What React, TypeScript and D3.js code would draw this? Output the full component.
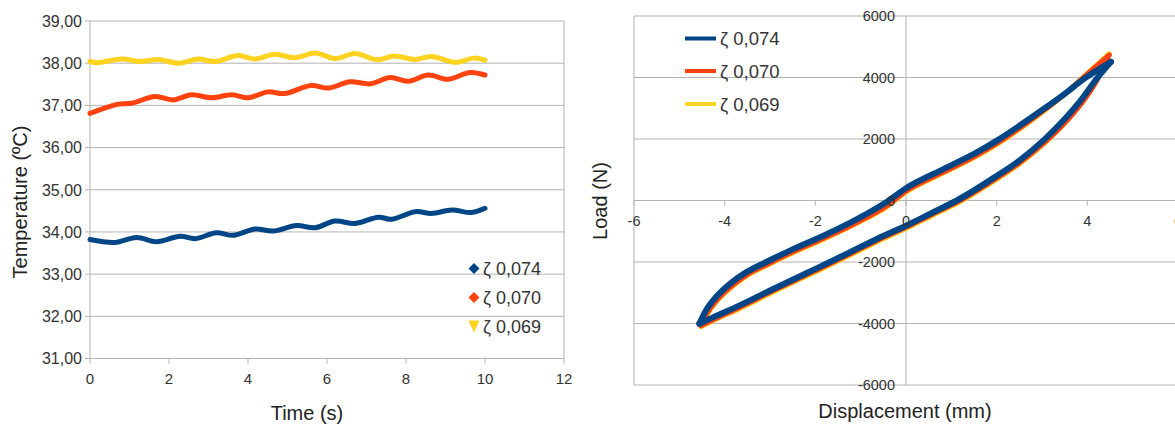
import React from "react";
import * as d3 from "d3";

const W = 1175;
const H = 425;

// Temperature (ºC) over time (s) for three damping ratios
const seriesNames = ["ζ 0,074", "ζ 0,070", "ζ 0,069"];
const seriesColors = ["#004586", "#ff420e", "#ffd320"];

const timeBlue = [0, 0.63, 1.18, 1.69, 2.28, 2.66, 3.2, 3.63, 4.18, 4.63, 5.23, 5.7, 6.2, 6.71, 7.3, 7.64, 8.23, 8.65, 9.16, 9.66, 10];
const tempBlue = [33.82, 33.75, 33.87, 33.77, 33.9, 33.84, 33.98, 33.92, 34.07, 34.02, 34.15, 34.1, 34.26, 34.2, 34.35, 34.3, 34.48, 34.44, 34.52, 34.46, 34.56];

const timeRed = [0, 0.35, 0.72, 1.05, 1.65, 2.1, 2.57, 3.08, 3.59, 4.01, 4.51, 4.92, 5.6, 6.04, 6.58, 7.09, 7.6, 8.05, 8.56, 9.06, 9.62, 10];
const tempRed = [36.81, 36.93, 37.03, 37.05, 37.21, 37.13, 37.25, 37.18, 37.25, 37.18, 37.32, 37.28, 37.47, 37.41, 37.56, 37.51, 37.66, 37.57, 37.72, 37.62, 37.78, 37.72];

const timeYellow = [0, 0.17, 0.8, 1.27, 1.73, 2.24, 2.74, 3.16, 3.75, 4.18, 4.68, 5.19, 5.7, 6.22, 6.71, 7.28, 7.7, 8.23, 8.65, 9.26, 9.72, 10];
const tempYellow = [38.04, 38.01, 38.1, 38.04, 38.09, 38.0, 38.1, 38.04, 38.18, 38.1, 38.21, 38.13, 38.24, 38.11, 38.23, 38.08, 38.17, 38.09, 38.16, 38.02, 38.12, 38.07];

const timeTicks = [0, 2, 4, 6, 8, 10, 12];
const tempTicks = [31, 32, 33, 34, 35, 36, 37, 38, 39];

// Load (N) against displacement (mm): each hysteresis loop is stored as its
// upper and lower branch, both running from the left tip to the right tip.
const dispBlueUpper = [-4.56, -4.41, -4.19, -3.89, -3.52, -3.07, -2.56, -1.81, -1.07, -0.48, 0, 0.78, 1.52, 2.04, 2.55, 3.05, 3.5, 3.95, 4.52];
const loadBlueUpper = [-4010, -3570, -3140, -2720, -2330, -1990, -1630, -1140, -600, -100, 400, 990, 1530, 1980, 2480, 2990, 3470, 3980, 4510];
const dispBlueLower = [-4.56, -4.33, -3.67, -2.93, -2.19, -1.44, -0.7, 0, 0.55, 1.12, 1.96, 2.5, 3.05, 3.5, 3.85, 4.2, 4.52];
const loadBlueLower = [-4010, -3850, -3410, -2880, -2360, -1830, -1290, -820, -420, 0, 760, 1300, 1980, 2650, 3250, 3950, 4510];

const dispRedUpper = [-4.52, -4.38, -4.16, -3.86, -3.5, -3.05, -2.55, -1.8, -1.05, -0.45, 0, 0.78, 1.52, 2.04, 2.55, 3.05, 3.5, 3.95, 4.48];
const loadRedUpper = [-4070, -3650, -3220, -2800, -2410, -2070, -1710, -1220, -690, -200, 300, 890, 1440, 1890, 2400, 2940, 3460, 4050, 4730];
const dispRedLower = [-4.52, -4.3, -3.65, -2.92, -2.18, -1.43, -0.69, 0, 0.55, 1.12, 1.96, 2.5, 3.05, 3.5, 3.85, 4.2, 4.48];
const loadRedLower = [-4070, -3910, -3460, -2930, -2410, -1880, -1340, -870, -470, -60, 690, 1220, 1880, 2520, 3120, 3880, 4730];

const dispYellowUpper = [-4.52, -4.38, -4.16, -3.86, -3.5, -3.05, -2.55, -1.8, -1.05, -0.45, 0, 0.78, 1.52, 2.04, 2.55, 3.05, 3.5, 3.95, 4.48];
const loadYellowUpper = [-4100, -3680, -3250, -2830, -2440, -2100, -1740, -1250, -720, -230, 270, 860, 1410, 1860, 2370, 2920, 3450, 4060, 4770];
const dispYellowLower = [-4.52, -4.3, -3.65, -2.92, -2.18, -1.43, -0.69, 0, 0.55, 1.12, 1.96, 2.5, 3.05, 3.5, 3.85, 4.2, 4.48];
const loadYellowLower = [-4100, -3940, -3500, -2970, -2450, -1920, -1380, -910, -510, -100, 650, 1190, 1860, 2510, 3120, 3890, 4770];

const dispTicks = [-6, -4, -2, 0, 2, 4, 6];
const loadTicks = [-6000, -4000, -2000, 0, 2000, 4000, 6000];

const GRID = "#b3b3b3";
const TICK_FONT = "'Liberation Sans Narrow', 'Liberation Sans', Arial, sans-serif";
const FONT = "'Liberation Sans', Arial, sans-serif";
const TEXT = "#333333";

const fmtComma = (v: number) => v.toFixed(2).replace(".", ",");
const zip = (a: number[], b: number[]) => a.map((v, i) => [v, b[i]] as [number, number]);

function TemperatureChart() {
  const x = d3.scaleLinear().domain([0, 12]).range([90, 564]);
  const y = d3.scaleLinear().domain([31, 39]).range([358.5, 21]);
  const line = d3
    .line<[number, number]>()
    .x((d) => x(d[0]))
    .y((d) => y(d[1]))
    .curve(d3.curveCatmullRom.alpha(0.5));
  const series = [
    { t: timeYellow, v: tempYellow, c: seriesColors[2] },
    { t: timeRed, v: tempRed, c: seriesColors[1] },
    { t: timeBlue, v: tempBlue, c: seriesColors[0] },
  ];
  const legendY = [268.5, 297.5, 326.5];
  return (
    <g>
      {tempTicks.map((t) => (
        <g key={"gy" + t}>
          <line x1={85} x2={564} y1={y(t)} y2={y(t)} stroke={GRID} strokeWidth={1} />
          <text x={82} y={y(t)} dy="0.36em" textAnchor="end" fontFamily={TICK_FONT} fontSize={16} fill={TEXT}>
            {fmtComma(t)}
          </text>
        </g>
      ))}
      <line x1={90} x2={90} y1={21} y2={358.5} stroke={GRID} strokeWidth={1} />
      <line x1={564} x2={564} y1={21} y2={358.5} stroke={GRID} strokeWidth={1} />
      {timeTicks.map((t) => (
        <g key={"gx" + t}>
          <line x1={x(t)} x2={x(t)} y1={358.5} y2={363.5} stroke={GRID} strokeWidth={1} />
          <text x={x(t)} y={384} textAnchor="middle" fontFamily={TICK_FONT} fontSize={15} fill={TEXT}>
            {t}
          </text>
        </g>
      ))}
      {series.map((s, i) => (
        <path
          key={"s" + i}
          d={line(zip(s.t, s.v)) || ""}
          fill="none"
          stroke={s.c}
          strokeWidth={5}
          strokeLinecap="round"
          strokeLinejoin="round"
        />
      ))}
      {/* legend */}
      <path d={`M474,${legendY[0] - 5.5}L479.5,${legendY[0]}L474,${legendY[0] + 5.5}L468.5,${legendY[0]}Z`} fill={seriesColors[0]} />
      <path d={`M474,${legendY[1] - 5.5}L479.5,${legendY[1]}L474,${legendY[1] + 5.5}L468.5,${legendY[1]}Z`} fill={seriesColors[1]} />
      <path d={`M468.5,${legendY[2] - 6}L479.5,${legendY[2] - 6}L474,${legendY[2] + 6}Z`} fill={seriesColors[2]} />
      {seriesNames.map((n, i) => (
        <text key={"l" + i} x={483} y={legendY[i]} dy="0.36em" fontFamily={FONT} fontSize={18} fill={TEXT}>
          {n}
        </text>
      ))}
      <text x={307} y={420} textAnchor="middle" fontFamily={FONT} fontSize={20} fill="#222">
        Time (s)
      </text>
      <text transform="translate(26.5,202) rotate(-90)" textAnchor="middle" fontFamily={FONT} fontSize={20} fill="#222">
        Temperature (ºC)
      </text>
    </g>
  );
}

function LoadChart() {
  const x = d3.scaleLinear().domain([-6, 6]).range([634, 1178]);
  const y = d3.scaleLinear().domain([-6000, 6000]).range([385, 16]);
  const branch = d3
    .line<[number, number]>()
    .x((d) => x(d[0]))
    .y((d) => y(d[1]))
    .curve(d3.curveMonotoneX);
  const loops = [
    { up: zip(dispYellowUpper, loadYellowUpper), lo: zip(dispYellowLower, loadYellowLower), c: seriesColors[2], w: 5 },
    { up: zip(dispRedUpper, loadRedUpper), lo: zip(dispRedLower, loadRedLower), c: seriesColors[1], w: 5 },
    { up: zip(dispBlueUpper, loadBlueUpper), lo: zip(dispBlueLower, loadBlueLower), c: seriesColors[0], w: 6 },
  ];
  const legendY = [38.5, 71, 104];
  return (
    <g>
      {loadTicks.map((t) => (
        <line key={"gy" + t} x1={634} x2={W} y1={y(t)} y2={y(t)} stroke={GRID} strokeWidth={1} />
      ))}
      <line x1={634} x2={634} y1={16} y2={385} stroke={GRID} strokeWidth={1} />
      <line x1={x(0)} x2={x(0)} y1={16} y2={385} stroke={GRID} strokeWidth={1} />
      {dispTicks.map((t) => (
        <line key={"tx" + t} x1={x(t)} x2={x(t)} y1={y(0)} y2={y(0) + 5} stroke={GRID} strokeWidth={1} />
      ))}
      {loops.map((s, i) => (
        <g key={"p" + i} fill="none" stroke={s.c} strokeWidth={s.w} strokeLinecap="round" strokeLinejoin="round">
          <path d={branch(s.lo) || ""} />
          <path d={branch(s.up) || ""} />
        </g>
      ))}
      {loadTicks.map((t) => (
        <text key={"ly" + t} x={895} y={y(t)} dy="0.36em" textAnchor="end" fontFamily={TICK_FONT} fontSize={14.5} fill={TEXT}>
          {t}
        </text>
      ))}
      {dispTicks.map((t) => (
        <text key={"lx" + t} x={x(t)} y={225.5} textAnchor="middle" fontFamily={TICK_FONT} fontSize={14.5} fill={TEXT}>
          {t}
        </text>
      ))}
      {/* legend */}
      {seriesNames.map((n, i) => (
        <g key={"lg" + i}>
          <line x1={685} x2={716} y1={legendY[i]} y2={legendY[i]} stroke={seriesColors[i]} strokeWidth={4} />
          <text x={720} y={legendY[i]} dy="0.36em" fontFamily={FONT} fontSize={18.5} fill={TEXT}>
            {n}
          </text>
        </g>
      ))}
      <text x={905} y={418} textAnchor="middle" fontFamily={FONT} fontSize={20} fill="#222">
        Displacement (mm)
      </text>
      <text transform="translate(607,201) rotate(-90)" textAnchor="middle" fontFamily={FONT} fontSize={20} fill="#222">
        Load (N)
      </text>
    </g>
  );
}

export default function App() {
  return (
    <svg
      width={W}
      height={H}
      viewBox={`0 0 ${W} ${H}`}
      style={{ position: "absolute", left: 0, top: 0, background: "#fff" }}
    >
      <rect x={0} y={0} width={W} height={H} fill="#fff" />
      <TemperatureChart />
      <LoadChart />
    </svg>
  );
}
